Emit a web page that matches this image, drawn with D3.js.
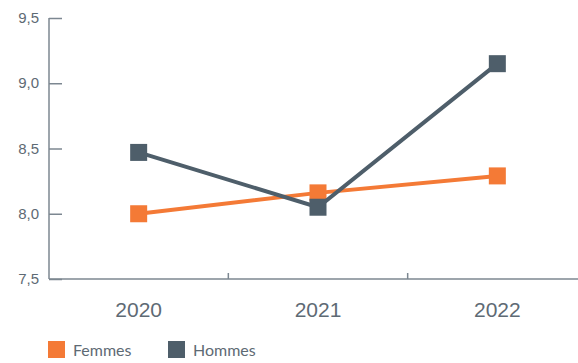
<!DOCTYPE html>
<html><head><meta charset="utf-8">
<script src="https://cdn.jsdelivr.net/npm/d3@7"></script>
<style>body{margin:0;background:#fff}svg{display:block;font-family:Lato,sans-serif}</style>
</head><body>
<svg id="c" width="578" height="363"></svg>
<script>
const years = ["2020","2021","2022"];
const femmes = [8.0, 8.16, 8.29];
const hommes = [8.47, 8.05, 9.15];
const yTicks = [7.5, 8.0, 8.5, 9.0, 9.5];
const seriesNames = ["Femmes","Hommes"];
const colors = ["#F47A36","#4E5E6A"];

const svg = d3.select("#c");
const x = d3.scaleBand().domain(years).range([49, 587]);
const y = d3.scaleLinear().domain([7.5, 9.5]).range([279, 18]);
const axisCol = "#7C8791";
const textCol = "#5E6A74";

// y axis
const ya = svg.append("g").attr("transform","translate(49,0)")
  .call(d3.axisRight(y).tickValues(yTicks).tickSize(13).tickFormat(d=>d3.format(".1f")(d).replace(".",",")));
ya.select(".domain").attr("stroke",axisCol).attr("stroke-width",1.5).attr("d","M0,18V279");
ya.selectAll(".tick line").attr("stroke",axisCol).attr("stroke-width",1.5);
ya.selectAll(".tick text").attr("x",-10).attr("text-anchor","end").attr("fill",textCol).style("font-size","15px").attr("dy","0.3em");

// x axis
const xa = svg.append("g").attr("transform","translate(0,279)")
  .call(d3.axisBottom(x).tickSize(0).tickPadding(0));
xa.select(".domain").attr("stroke",axisCol).attr("stroke-width",1.5).attr("d","M49,0H578");
xa.selectAll(".tick text").attr("fill",textCol).style("font-size","21px").attr("y",38).attr("dy",null);
// band boundary ticks
svg.append("g").selectAll("line").data(years.slice(1)).join("line")
  .attr("x1",d=>x(d)).attr("x2",d=>x(d)).attr("y1",273).attr("y2",279)
  .attr("stroke",axisCol).attr("stroke-width",1.5);

const cx = d=>x(d)+x.bandwidth()/2;
const line = d3.line().x(d=>cx(d.year)).y(d=>y(d.v));
[femmes, hommes].forEach((vals,i)=>{
  const data = years.map((yr,j)=>({year:yr, v:vals[j]}));
  svg.append("path").datum(data).attr("d",line).attr("fill","none")
    .attr("stroke",colors[i]).attr("stroke-width",4);
  svg.append("g").selectAll("rect").data(data).join("rect")
    .attr("x",d=>cx(d.year)-8.5).attr("y",d=>y(d.v)-8.5).attr("width",17).attr("height",17)
    .attr("fill",colors[i]);
});

// legend
const lx = [48, 168];
seriesNames.forEach((n,i)=>{
  svg.append("rect").attr("x",lx[i]).attr("y",341).attr("width",17).attr("height",17).attr("fill",colors[i]);
  svg.append("text").attr("x",lx[i]+25).attr("y",356).text(n).attr("fill",textCol).style("font-size","16px");
});
</script>
</body></html>
